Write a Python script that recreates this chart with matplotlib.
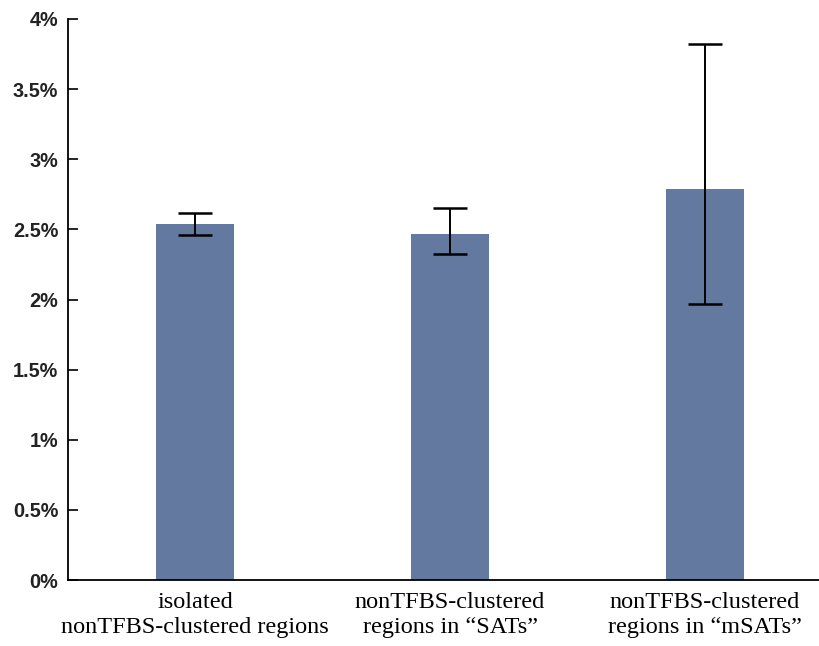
import numpy as np
import matplotlib
matplotlib.use("Agg")
import matplotlib.pyplot as plt
from matplotlib.ticker import FuncFormatter

# data (percent)
categories = ["isolated\nnonTFBS-clustered regions",
              "nonTFBS-clustered\nregions in \u201cSATs\u201d",
              "nonTFBS-clustered\nregions in \u201cmSATs\u201d"]
values = [2.54, 2.47, 2.79]
err_low = [0.08, 0.145, 0.82]
err_high = [0.08, 0.18, 1.035]
yticks = [0, 0.5, 1, 1.5, 2, 2.5, 3, 3.5, 4]

fig = plt.figure(figsize=(8.19, 6.46), dpi=100)
ax = fig.add_axes([68 / 819, 1 - 580 / 646, 751 / 819, 561 / 646])

x = np.arange(len(categories))
ax.bar(x, values, width=0.306, color="#64799F", zorder=2)
ax.errorbar(x, values, yerr=[err_low, err_high], fmt="none", ecolor="black",
            elinewidth=1.4, capsize=12.5, capthick=1.8, zorder=3)

ax.set_xlim(-0.498, 2.447)
ax.set_ylim(0, 4)
ax.set_yticks(yticks)

def pct(v, pos):
    return f"{v:g}%"

ax.yaxis.set_major_formatter(FuncFormatter(pct))
ax.set_xticks(x)
ax.set_xticklabels(categories, family="Liberation Serif", fontsize=17.5,
                   linespacing=1.25)
for lab in ax.get_yticklabels():
    lab.set_family("Liberation Sans")
    lab.set_fontweight("bold")
    lab.set_fontsize(14.3)
    lab.set_color("#222222")

ax.tick_params(axis="y", direction="in", length=7, width=1.2, pad=7)
ax.tick_params(axis="x", length=0, pad=9)
for s in ["top", "right"]:
    ax.spines[s].set_visible(False)
ax.spines["left"].set_linewidth(1.3)
ax.spines["bottom"].set_linewidth(1.3)

fig.savefig("out.png", dpi=100)
